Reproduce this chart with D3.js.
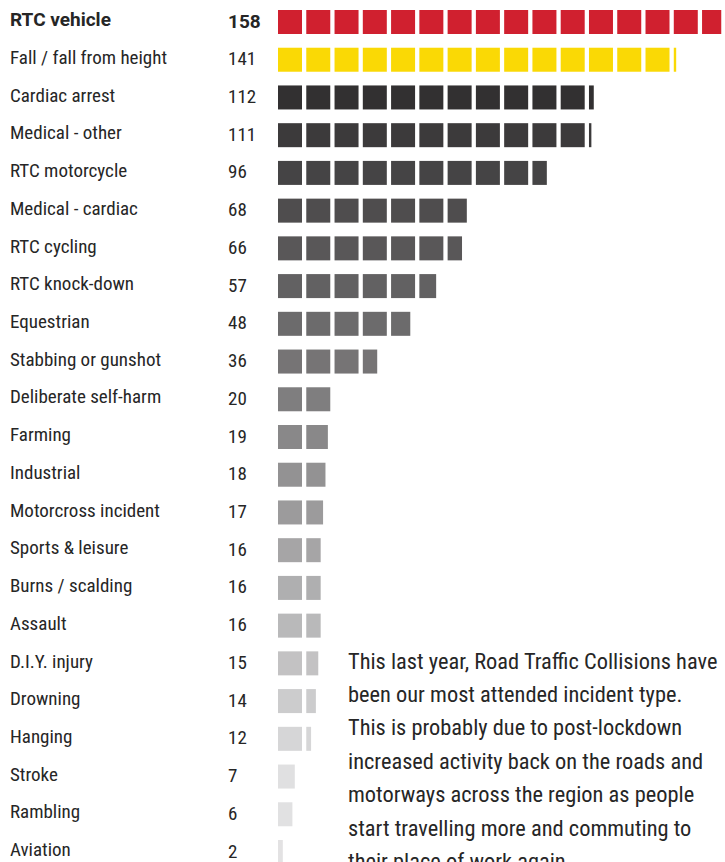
<!DOCTYPE html>
<html><head><meta charset="utf-8">
<script src="https://cdn.jsdelivr.net/npm/d3@7"></script>
<style>
  html, body { margin: 0; padding: 0; background: #fff; overflow: hidden; }
  svg { display: block; }
</style>
</head><body>
<svg id="chart" width="725" height="862"></svg>
<script>
// ---- data ----
const categories = [
  "RTC vehicle", "Fall / fall from height", "Cardiac arrest", "Medical - other",
  "RTC motorcycle", "Medical - cardiac", "RTC cycling", "RTC knock-down",
  "Equestrian", "Stabbing or gunshot", "Deliberate self-harm", "Farming",
  "Industrial", "Motorcross incident", "Sports & leisure", "Burns / scalding",
  "Assault", "D.I.Y. injury", "Drowning", "Hanging", "Stroke", "Rambling", "Aviation"
];
const counts = [158, 141, 112, 111, 96, 68, 66, 57, 48, 36, 20, 19, 18, 17, 16, 16, 16, 15, 14, 12, 7, 6, 2];
const unitSize = 10; // one square = 10 incidents
const noteLines = [
  "This last year, Road Traffic Collisions have",
  "been our most attended incident type.",
  "This is probably due to post-lockdown",
  "increased activity back on the roads and",
  "motorways across the region as people",
  "start travelling more and commuting to",
  "their place of work again."
];

// ---- layout ----
const svg = d3.select("#chart");
const data = categories.map((c, i) => ({ cat: c, value: counts[i], idx: i }));

const y = d3.scalePoint().domain(categories).range([10, 840]);
const sq = 24;
const x = d3.scaleLinear().domain([0, 160]).range([278, 278 + 16 * 28.27]);
const w = d3.scaleLinear().domain([0, unitSize]).range([0, sq]);

const grey = d3.scaleLinear().domain([2, 22]).range(["#323031", "#f3f3f4"])
  .interpolate(d3.interpolateRgb).clamp(true);
function colorFor(i) {
  if (i === 0) return "#d0202f";
  if (i === 1) return "#fad905";
  return grey(Math.min(i, 20) + (i > 20 ? (i - 20) * 0.15 : 0));
}

const textColor = "#262626";
const labelFont = "'Roboto Condensed', 'Roboto', sans-serif";

const rows = svg.selectAll("g.row").data(data).join("g").attr("class", "row");

rows.append("text")
  .attr("x", 10)
  .attr("y", d => y(d.cat) + 16.2)
  .attr("font-family", d => d.idx === 0 ? "Roboto, sans-serif" : labelFont)
  .attr("font-weight", d => d.idx === 0 ? 700 : 400)
  .attr("font-size", 19)
  .attr("fill", textColor)
  .text(d => d.cat);

rows.append("text")
  .attr("x", 228)
  .attr("y", d => y(d.cat) + 17.5)
  .attr("font-family", d => d.idx === 0 ? "Roboto, sans-serif" : labelFont)
  .attr("font-weight", d => d.idx === 0 ? 700 : 400)
  .attr("font-size", 19)
  .attr("fill", textColor)
  .text(d => d.value);

rows.each(function(d) {
  const n = Math.ceil(d.value / unitSize);
  const units = d3.range(n).map(k => ({ k, part: Math.min(unitSize, d.value - k * unitSize) }));
  d3.select(this).selectAll("rect").data(units).join("rect")
    .attr("x", u => x(u.k * unitSize))
    .attr("y", y(d.cat))
    .attr("width", u => w(u.part))
    .attr("height", sq)
    .attr("fill", colorFor(d.idx));
});

svg.append("g").selectAll("text").data(noteLines).join("text")
  .attr("x", 348)
  .attr("y", (d, i) => 668.5 + i * 33.4)
  .attr("font-family", labelFont)
  .attr("font-size", 22.4)
  .attr("fill", textColor)
  .text(d => d);
</script></body></html>
